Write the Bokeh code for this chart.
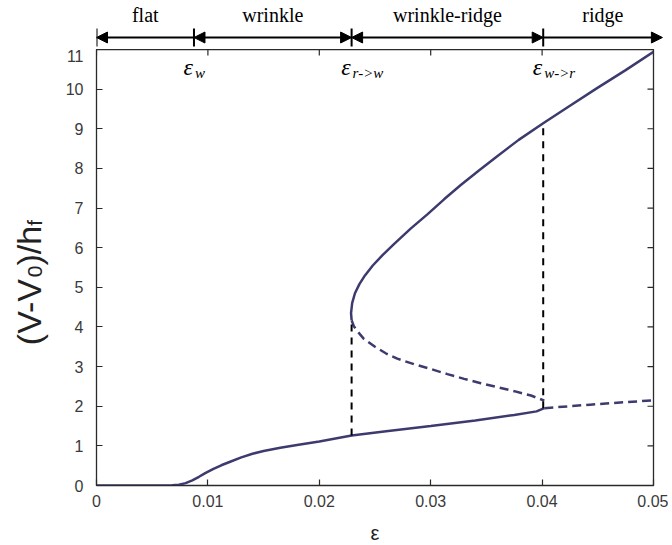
import numpy as np
from bokeh.plotting import figure
from bokeh.models import Range1d, FixedTicker, Arrow, NormalHead
from bokeh.layouts import column, row
from bokeh.embed import file_html
from bokeh.resources import INLINE
from bokeh.core.properties import value

# ---------------- data ----------------
stable_low_x = [0.0, 0.002, 0.004, 0.006, 0.0068, 0.0074, 0.0080, 0.0086, 0.0092, 0.0098, 0.0105,
                0.0112, 0.0120, 0.0130, 0.0140, 0.0150, 0.0165, 0.0180, 0.0200, 0.0229, 0.0260,
                0.0300, 0.0340, 0.0375, 0.0395, 0.0402]
stable_low_y = [0.0, 0.0, 0.0, 0.0, 0.005, 0.02, 0.06, 0.13, 0.22, 0.32, 0.42,
                0.51, 0.60, 0.71, 0.80, 0.87, 0.95, 1.02, 1.11, 1.26, 1.37,
                1.50, 1.64, 1.78, 1.87, 1.95]
upper_x = [0.0229, 0.02285, 0.02295, 0.0232, 0.0236, 0.0241, 0.0248, 0.0257, 0.0267, 0.0282,
           0.0297, 0.0312, 0.0327, 0.0343, 0.0358, 0.0379, 0.0401, 0.0425, 0.0449, 0.0475, 0.0500]
upper_y = [4.17, 4.35, 4.60, 4.85, 5.08, 5.30, 5.55, 5.82, 6.09, 6.48,
           6.84, 7.22, 7.58, 7.94, 8.27, 8.72, 9.14, 9.58, 10.02, 10.48, 10.94]
unstable_x = [0.0229, 0.0231, 0.0234, 0.0240, 0.0250, 0.0260, 0.0270, 0.0285, 0.0300, 0.0315,
              0.0330, 0.0345, 0.0360, 0.0375, 0.0390, 0.0402]
unstable_y = [4.17, 4.02, 3.90, 3.70, 3.50, 3.33, 3.20, 3.06, 2.94, 2.81,
              2.69, 2.58, 2.48, 2.38, 2.27, 2.14]
ridge_low_x = [0.0402, 0.0443, 0.0500]
ridge_low_y = [1.95, 2.04, 2.15]

eps_w, eps_rw, eps_wr = 0.00875, 0.0229, 0.0401
vline_x = [eps_rw, eps_wr]
vline_y0 = [1.26, 1.95]
vline_y1 = [4.17, 9.14]

regime_names = ["flat", "wrinkle", "wrinkle-ridge", "ridge"]
regime_bounds = [0.0, eps_w, eps_rw, eps_wr, 0.0508]
eps_marks = [eps_w, eps_rw, eps_wr]
eps_subs = ["w", "r->w", "w->r"]

x_ticks = [0.0, 0.01, 0.02, 0.03, 0.04, 0.05]
x_tick_labels = ["0", "0.01", "0.02", "0.03", "0.04", "0.05"]
y_ticks = list(range(0, 12))

CURVE = "#3d3b6e"
FRAME = "#2a2a2a"
TICKTXT = "#3a3a3a"

FW, FH = 557, 436
YLAB_W = 56
LEFT = 40
XMAX, YMAX = 0.05, 11.0

# ---------------- main figure ----------------
p = figure(frame_width=FW, frame_height=FH, x_range=Range1d(0, XMAX), y_range=Range1d(0, YMAX),
           output_backend="svg", toolbar_location=None, min_border=0,
           min_border_left=LEFT, min_border_right=15, min_border_top=0, min_border_bottom=0)
p.xgrid.visible = False
p.ygrid.visible = False
p.outline_line_color = FRAME
p.outline_line_width = 1.3

for ax in (p.xaxis[0], p.yaxis[0]):
    ax.major_tick_in = 6
    ax.major_tick_out = 0
    ax.minor_tick_line_color = None
    ax.axis_line_color = FRAME
    ax.major_tick_line_color = FRAME
    ax.major_tick_line_width = 1.2
    ax.major_label_text_font = "Liberation Sans"
    ax.major_label_text_font_size = "16px"
    ax.major_label_text_color = TICKTXT

p.xaxis[0].ticker = FixedTicker(ticks=x_ticks)
p.xaxis[0].major_label_overrides = {t: l for t, l in zip(x_ticks, x_tick_labels)}
p.xaxis[0].major_label_standoff = 9
p.xaxis[0].axis_label = "ε"
p.xaxis[0].axis_label_text_font = "Liberation Sans"
p.xaxis[0].axis_label_text_font_size = "20px"
p.xaxis[0].axis_label_text_font_style = "normal"
p.xaxis[0].axis_label_text_color = "#222222"
p.xaxis[0].axis_label_standoff = 12

p.yaxis[0].ticker = FixedTicker(ticks=y_ticks)
p.yaxis[0].major_label_standoff = 13

# inward ticks on the top and right edges (half of each dash is clipped by the frame)
p.scatter(x=x_ticks, y=[YMAX] * len(x_ticks), marker="dash", angle=np.pi / 2, size=12,
          line_color=FRAME, line_width=1.2)
p.scatter(x=[XMAX] * len(y_ticks), y=y_ticks, marker="dash", size=12,
          line_color=FRAME, line_width=1.2)

# curves
p.line(stable_low_x, stable_low_y, line_color=CURVE, line_width=2.5)
p.line(upper_x, upper_y, line_color=CURVE, line_width=2.5)
p.line(unstable_x, unstable_y, line_color=CURVE, line_width=2.5, line_dash="9 5")
p.line(ridge_low_x, ridge_low_y, line_color=CURVE, line_width=2.5, line_dash="9 5")
p.segment(x0=vline_x, y0=vline_y0, x1=vline_x, y1=vline_y1, line_color="black",
          line_width=2, line_dash="7 6")

# epsilon markers inside top of frame
p.text(x=eps_marks, y=[10.55] * 3, text=["ε"] * 3, text_align="right", text_baseline="alphabetic",
       x_offset=-1, text_font=value("Liberation Serif"), text_font_style="italic",
       text_font_size="24px", text_color="black")
p.text(x=eps_marks, y=[10.40] * 3, text=eps_subs, text_align="left", text_baseline="alphabetic",
       x_offset=1, text_font=value("Liberation Serif"), text_font_style="italic",
       text_font_size="15px", text_color="black")

# ---------------- y-axis label panel ----------------
yl = figure(frame_width=YLAB_W, frame_height=FH, x_range=Range1d(0, YLAB_W), y_range=Range1d(0, YMAX),
            output_backend="svg", toolbar_location=None, min_border=0,
            x_axis_location=None, y_axis_location=None)
yl.xgrid.visible = False
yl.ygrid.visible = False
yl.outline_line_color = None

px_per_unit = FH / YMAX
ylab_pieces = ["(V-V", "0", ")/h", "f"]
piece_len = [68.0, 11.7, 39.7, 5.8]
piece_size = ["34px", "21px", "34px", "21px"]
piece_sub = [False, True, False, True]
y_center = 5.12
y_cur = y_center - sum(piece_len) / 2 / px_per_unit
for txt, ln, sz, sub in zip(ylab_pieces, piece_len, piece_size, piece_sub):
    yl.text(x=[28], y=[y_cur], text=[txt], angle=np.pi / 2, text_align="left",
            text_baseline="alphabetic", x_offset=6 if sub else 0,
            text_font=value("Liberation Sans"), text_font_size=sz, text_color="#222222")
    y_cur += ln / px_per_unit

# ---------------- regime bar on top ----------------
TOP_H = 49
TW = 668 - (YLAB_W + LEFT)
t = figure(frame_width=TW, frame_height=TOP_H, x_range=Range1d(0, XMAX * TW / FW), y_range=Range1d(0, TOP_H),
           output_backend="svg", toolbar_location=None, min_border=0, min_border_left=YLAB_W + LEFT,
           min_border_right=0, x_axis_location=None, y_axis_location=None)
t.xgrid.visible = False
t.ygrid.visible = False
t.outline_line_color = None

t.segment(x0=regime_bounds[:4], y0=[3] * 4, x1=regime_bounds[:4], y1=[21] * 4,
          line_color="black", line_width=2)
heads = [(True, False), (True, True), (True, True), (False, True)]
for i, (hs, he) in enumerate(heads):
    t.add_layout(Arrow(x_start=regime_bounds[i], y_start=12, x_end=regime_bounds[i + 1], y_end=12,
                       line_color="black", line_width=2,
                       start=NormalHead(size=11, fill_color="black", line_color="black") if hs else None,
                       end=NormalHead(size=11, fill_color="black", line_color="black") if he else None))
mids = [(regime_bounds[i] + regime_bounds[i + 1]) / 2 for i in range(4)]
t.text(x=mids, y=[35] * 4, text=regime_names, text_align="center", text_baseline="alphabetic",
       text_font=value("Liberation Serif"), text_font_size="20px", text_color="black")

layout = column(t, row(yl, p, spacing=0), spacing=0)
open("out.html", "w").write(file_html(layout, INLINE))
